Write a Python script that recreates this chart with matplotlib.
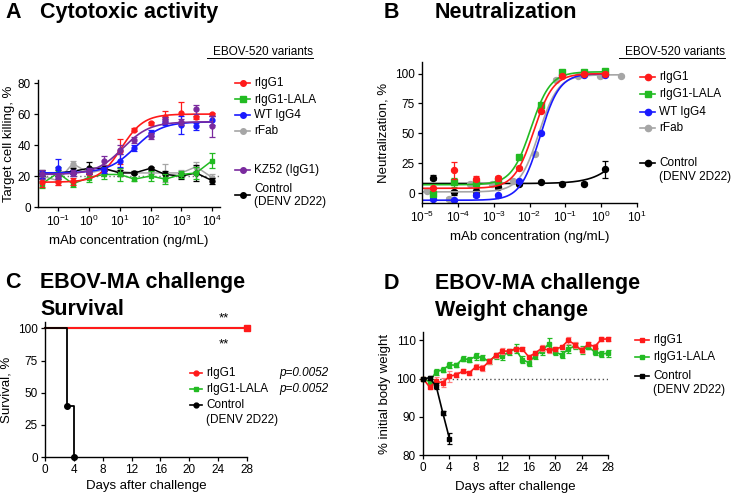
"""
Four-panel antibody figure: ADCC-style cytotoxic activity, neutralization
curves, survival after EBOV-MA challenge and body-weight change.
"""
import numpy as np
import matplotlib
matplotlib.use("Agg")
import matplotlib.pyplot as plt  # noqa: E402
from matplotlib.lines import Line2D  # noqa: E402
from matplotlib.ticker import LogLocator, NullLocator  # noqa: E402

plt.rcParams["font.family"] = ["Liberation Sans", "DejaVu Sans"]

W, H = 744, 494

RED = "#ff1a1a"
GREEN = "#22bb22"
BLUE = "#1a1aff"
GRAY = "#a6a6a6"
PURPLE = "#7a2a9e"
BLACK = "#000000"

TITLE_FS = 15.5
TICK_FS = 8.5
LABEL_FS = 9.5
LEG_FS = 8.5

# ---- panel A: cytotoxic activity ----
a_conc = [0.03, 0.1, 0.3, 1, 3, 10, 30, 100, 300, 1000, 3000, 10000]
a_rigg1 = [16, 16, 16.5, 22, 24, 36, 50, 54, 58, 61, 58, 60]
a_rigg1_err = [3, 2, 2, 1, 1, 8, 1, 1, 4, 7, 1, 1]
a_lala = [15, 22, 15, 19, 21, 21, 18, 20, 18, 21, 22, 30]
a_lala_err = [3, 4, 2, 3, 3, 4, 1, 3, 3, 2, 4, 5]
a_igg4 = [21, 25, 22, 23, 24, 30, 38, 48, 55, 53, 52, 56]
a_igg4_err = [2, 6, 2, 2, 2, 4, 2, 2, 2, 6, 2, 3]
a_rfab = [20, 17, 28, 22, 24, 23, 22, 22, 22, 22, 26, 19]
a_rfab_err = [3, 3, 2, 3, 2, 2, 1, 1, 6, 2, 3, 2]
a_kz52 = [21, 20, 22, 23, 30, 37, 43, 46, 56, 55, 63, 52]
a_kz52_err = [3, 2, 2, 2, 3, 3, 2, 2, 2, 2, 3, 7]
a_ctrl = [22, 22, 23, 25, 25, 22, 22, 25, 21, 20, 22, 17]
a_ctrl_err = [2, 2, 2, 4, 2, 2, 1, 1, 2, 2, 5, 2]
# 4PL fit parameters: bottom, top, log10 EC50, hill
a_fit_rigg1 = (16, 60, 1.05, 1.2)
a_fit_igg4 = (22, 55, 1.5, 1.0)
a_fit_kz52 = (21, 55, 1.1, 1.0)

# ---- panel B: neutralization ----
b_conc = [2e-5, 8e-5, 3.2e-4, 1.28e-3, 5.1e-3, 0.0205, 0.082, 0.33, 1.31]
b_conc_fab = [1.4e-5, 5.5e-5, 2.2e-4, 8.8e-4, 3.5e-3, 0.014, 0.056, 0.22, 0.9, 3.6]
b_rigg1 = [4, 19, 12, 12.5, 21, 68.5, 98, 100, 100]
b_rigg1_err = [1, 7, 2, 2, 1, 1, 1, 1, 1]
b_lala = [-1, 9, 8.6, 10, 30, 74, 101, 101.5, 102]
b_lala_err = [1, 4, 2, 1, 1, 1, 1, 1, 1]
b_igg4 = [-5, -6, -2, -2, 10, 50.5, 99, 99, 99]
b_igg4_err = [1, 1, 1, 1, 1, 1, 1, 1, 1]
b_rfab = [2, -5, 8, 8, 10, 33, 95, 98, 98, 98]
b_rfab_err = [1, 2, 1, 1, 1, 1, 1, 1, 1, 1]
b_ctrl = [13, 0.5, 2, 5, 8, 9.5, 8, 8, 20]
b_ctrl_err = [2, 2, 2, 2, 1, 1, 1, 1, 7]
b_fit_rigg1 = (4, 100, -1.88, 1.6)
b_fit_lala = (7, 101.5, -1.96, 1.6)
b_fit_igg4 = (-6, 100, -1.71, 1.6)
b_fit_rfab = (1, 99, -1.74, 1.6)
b_fit_ctrl = (8, 100, 1.0, 1.0)

# ---- panel C: survival ----
c_days_treated = [0, 28]
c_surv_treated = [100, 100]
c_days_ctrl = [0, 3, 4]
c_surv_ctrl = [100, 40, 0]
c_pvalue = "p=0.0052"

# ---- panel D: weight change ----
d_days = list(range(29))
d_rigg1 = [100, 97.8, 99.3, 98.9, 100.6, 101.0, 101.9, 101.5, 103.1, 102.8,
           104.5, 106.1, 107.2, 107.2, 107.8, 107.8, 105.7, 106.7, 108.0,
           107.4, 107.7, 108.3, 110.0, 108.9, 107.4, 109.0, 108.4, 110.3, 110.4]
d_rigg1_err = [0, 0.5, 1.0, 1.2, 1.5, 0.6, 0.5, 0.6, 0.6, 0.8, 0.6, 0.6, 0.8,
               0.6, 0.6, 0.4, 0.6, 0.5, 0.8, 0.6, 0.6, 0.6, 1.0, 0.8, 0.8,
               0.5, 0.6, 0.5, 0.5]
d_lala = [100, 99.2, 101.8, 102.3, 103.6, 103.5, 105.2, 105.0, 105.8, 105.5,
          104.5, 106.0, 105.8, 107.0, 107.8, 105.0, 104.2, 106.0, 107.3,
          109.0, 107.0, 106.2, 107.8, 108.5, 107.5, 108.3, 107.0, 106.5, 106.6]
d_lala_err = [0, 0.8, 0.8, 0.7, 0.8, 0.5, 0.6, 0.6, 0.8, 0.6, 0.6, 0.8, 0.8,
              0.8, 1.2, 0.8, 0.9, 0.8, 1.0, 1.5, 0.8, 0.9, 1.0, 0.8, 1.0,
              0.6, 0.9, 0.8, 0.9]
d_days_ctrl = [0, 1, 2, 3, 4]
d_ctrl = [100, 100.2, 98.0, 91.0, 84.3]
d_ctrl_err = [0, 0.4, 0.8, 0.5, 1.5]


def px_axes(fig, left, top, right, bottom):
    return fig.add_axes([left / W, 1 - bottom / H, (right - left) / W,
                         (bottom - top) / H])


def fx(x):
    return x / W


def fy(y):
    return 1 - y / H


def logistic(x, params):
    bottom, top, logec50, hill = params
    return bottom + (top - bottom) / (1 + 10 ** ((logec50 - np.log10(x)) * hill))


def style_axes(ax):
    for side in ("top", "right"):
        ax.spines[side].set_visible(False)
    for side in ("left", "bottom"):
        ax.spines[side].set_linewidth(1.0)
    ax.tick_params(direction="out", length=3, width=0.9, labelsize=TICK_FS,
                   pad=2)


def title(fig, x, y, text):
    fig.text(fx(x), fy(y), text, fontsize=TITLE_FS, fontweight="bold",
             va="baseline")


def legend_mark(fig, x0, x1, y, color, marker, ms=4):
    fig.add_artist(Line2D([fx(x0), fx(x1)], [fy(y), fy(y)], color=color,
                          lw=1.2, transform=fig.transFigure))
    fig.add_artist(Line2D([fx((x0 + x1) / 2)], [fy(y)], color=color,
                          marker=marker, ms=ms, lw=0,
                          transform=fig.transFigure))


def legend_text(fig, x, y, label, **kw):
    fig.text(fx(x), fy(y), label, fontsize=LEG_FS, va="center", ha="left",
             **kw)


def legend_entry(fig, x0, x1, y, color, marker, label, ms=4):
    legend_mark(fig, x0, x1, y, color, marker, ms)
    legend_text(fig, x1 + 4, y, label)


def header(fig, x0, x1, y, text):
    fig.text(fx(x1), fy(y), text, fontsize=LEG_FS, ha="right", va="center")
    fig.add_artist(Line2D([fx(x0), fx(x1)], [fy(y + 6), fy(y + 6)],
                          color="black", lw=0.7, transform=fig.transFigure))


fig = plt.figure(figsize=(W / 100, H / 100), dpi=100)

# titles
title(fig, 5, 18, "A")
title(fig, 40, 18, "Cytotoxic activity")
title(fig, 384, 18, "B")
title(fig, 435, 18, "Neutralization")
title(fig, 5, 288, "C")
title(fig, 40, 288, "EBOV-MA challenge")
title(fig, 40, 315, "Survival")
title(fig, 384, 289, "D")
title(fig, 435, 289, "EBOV-MA challenge")
title(fig, 435, 316, "Weight change")

# ---------------- A ----------------
ax = px_axes(fig, 38, 80, 220, 207)
style_axes(ax)
ax.set_xscale("log")
ax.set_xlim(10 ** -1.65, 10 ** 4.25)
ax.set_ylim(0, 82)
ax.set_yticks([0, 20, 40, 60, 80])
ax.xaxis.set_major_locator(LogLocator(base=10, numticks=10))
ax.xaxis.set_minor_locator(NullLocator())
ax.axhline(20, color="#707070", lw=1.0, ls=(0, (1, 2)))
xs = np.logspace(np.log10(a_conc[0]), np.log10(a_conc[-1]), 200)

fit_series = [(a_rigg1, a_rigg1_err, a_fit_rigg1, RED),
              (a_igg4, a_igg4_err, a_fit_igg4, BLUE),
              (a_kz52, a_kz52_err, a_fit_kz52, PURPLE)]
line_series = [(a_rfab, a_rfab_err, GRAY, "o"),
               (a_ctrl, a_ctrl_err, BLACK, "o"),
               (a_lala, a_lala_err, GREEN, "s")]
for vals, err, color, mk in line_series:
    ax.errorbar(a_conc, vals, yerr=err, fmt="none", ecolor=color,
                elinewidth=0.9, capsize=2, capthick=0.9)
    ax.plot(a_conc, vals, color=color, marker=mk, ms=3.5, lw=1.1)
for vals, err, params, color in fit_series:
    ax.errorbar(a_conc, vals, yerr=err, fmt="none", ecolor=color,
                elinewidth=0.9, capsize=2, capthick=0.9)
    ax.plot(xs, logistic(xs, params), color=color, lw=1.2)
    ax.plot(a_conc, vals, color=color, marker="o", ms=3.5, lw=0)
ax.set_ylabel("Target cell killing, %", fontsize=LABEL_FS, labelpad=2)
ax.set_xlabel("mAb concentration (ng/mL)", fontsize=LABEL_FS, labelpad=4)

header(fig, 207, 313, 52, "EBOV-520 variants")
legend_entry(fig, 235, 250, 83, RED, "o", "rIgG1")
legend_entry(fig, 235, 250, 99.5, GREEN, "s", "rIgG1-LALA")
legend_entry(fig, 235, 250, 115, BLUE, "o", "WT IgG4")
legend_entry(fig, 235, 250, 130.5, GRAY, "o", "rFab")
legend_entry(fig, 235, 250, 170.5, PURPLE, "o", "KZ52 (IgG1)")
legend_mark(fig, 235, 250, 195, BLACK, "o")
legend_text(fig, 254, 189, "Control")
legend_text(fig, 254, 202.5, "(DENV 2D22)")

# ---------------- B ----------------
ax = px_axes(fig, 422, 62, 637, 203)
style_axes(ax)
ax.set_xscale("log")
ax.set_xlim(1e-5, 1e1)
ax.set_ylim(-8.3, 109.7)
ax.set_yticks([0, 25, 50, 75, 100])
ax.xaxis.set_major_locator(LogLocator(base=10, numticks=10))
ax.xaxis.set_minor_locator(NullLocator())
xs = np.logspace(-5, np.log10(b_conc[-1]), 300)
xs_fab = np.logspace(-5, np.log10(b_conc_fab[-1]), 300)
b_series = [(b_conc, b_ctrl, b_ctrl_err, b_fit_ctrl, BLACK, "o", xs),
            (b_conc_fab, b_rfab, b_rfab_err, b_fit_rfab, GRAY, "o", xs_fab),
            (b_conc, b_igg4, b_igg4_err, b_fit_igg4, BLUE, "o", xs),
            (b_conc, b_lala, b_lala_err, b_fit_lala, GREEN, "s", xs),
            (b_conc, b_rigg1, b_rigg1_err, b_fit_rigg1, RED, "o", xs)]
for conc, vals, err, params, color, mk, grid in b_series:
    ax.plot(grid, logistic(grid, params), color=color, lw=1.2)
    ax.errorbar(conc, vals, yerr=err, fmt="none", ecolor=color,
                elinewidth=0.9, capsize=2, capthick=0.9)
    ax.plot(conc, vals, color=color, marker=mk, ms=4.3, lw=0)
ax.set_ylabel("Neutralization, %", fontsize=LABEL_FS, labelpad=4)
ax.set_xlabel("mAb concentration (ng/mL)", fontsize=LABEL_FS, labelpad=4)

header(fig, 619, 725, 52, "EBOV-520 variants")
legend_entry(fig, 640, 655, 77, RED, "o", "rIgG1", ms=4.5)
legend_entry(fig, 640, 655, 94, GREEN, "s", "rIgG1-LALA", ms=4.5)
legend_entry(fig, 640, 655, 112, BLUE, "o", "WT IgG4", ms=4.5)
legend_entry(fig, 640, 655, 128, GRAY, "o", "rFab", ms=4.5)
legend_entry(fig, 640, 655, 163, BLACK, "o", "Control", ms=4.5)
legend_text(fig, 659, 177, "(DENV 2D22)")

# ---------------- C ----------------
ax = px_axes(fig, 45, 322, 247, 457)
style_axes(ax)
ax.set_xlim(0, 28)
ax.set_ylim(0, 105)
ax.set_xticks(range(0, 29, 4))
ax.set_yticks([0, 25, 50, 75, 100])
ax.step(c_days_treated, c_surv_treated, where="post", color=GREEN, lw=1.5,
        clip_on=False)
ax.step(c_days_treated, c_surv_treated, where="post", color=RED, lw=1.5,
        clip_on=False)
ax.plot(c_days_treated[-1:], c_surv_treated[-1:], color=RED, marker="s",
        ms=4, lw=0, clip_on=False, zorder=5)
ax.step(c_days_ctrl, c_surv_ctrl, where="post", color=BLACK, lw=1.3,
        clip_on=False)
ax.plot(c_days_ctrl[1:], c_surv_ctrl[1:], color=BLACK, marker="o", ms=4,
        lw=0, clip_on=False, zorder=5)
ax.text(24.8, 108, "**", fontsize=9.5, ha="center", va="center")
ax.text(24.8, 87.5, "**", fontsize=9.5, ha="center", va="center")
ax.set_ylabel("Survival, %", fontsize=LABEL_FS, labelpad=4)
ax.set_xlabel("Days after challenge", fontsize=LABEL_FS, labelpad=3)

legend_entry(fig, 190, 202, 372.7, RED, "o", "rIgG1", ms=3.5)
legend_entry(fig, 190, 202, 389, GREEN, "s", "rIgG1-LALA", ms=3.5)
legend_entry(fig, 190, 202, 405, BLACK, "o", "Control", ms=3.5)
legend_text(fig, 206, 420, "(DENV 2D22)")
legend_text(fig, 279, 372.7, c_pvalue, style="italic")
legend_text(fig, 279, 389, c_pvalue, style="italic")

# ---------------- D ----------------
ax = px_axes(fig, 423, 332, 608, 455)
style_axes(ax)
ax.set_xlim(0, 28)
ax.set_ylim(80, 112.2)
ax.set_xticks(range(0, 29, 4))
ax.set_yticks([80, 90, 100, 110])
ax.axhline(100, color="#505050", lw=1.0, ls=(0, (1, 2)))
d_series = [(d_days, d_lala, d_lala_err, GREEN, GREEN),
            (d_days, d_rigg1, d_rigg1_err, RED, "#ff8080"),
            (d_days_ctrl, d_ctrl, d_ctrl_err, BLACK, BLACK)]
for days, vals, err, color, ecolor in d_series:
    ax.errorbar(days, vals, yerr=err, fmt="none", ecolor=ecolor,
                elinewidth=0.9, capsize=1.8, capthick=0.9, clip_on=False)
    ax.plot(days, vals, color=color, marker="s", ms=3.2, lw=1.2,
            clip_on=False)
ax.set_ylabel("% initial body weight", fontsize=LABEL_FS, labelpad=4)
ax.set_xlabel("Days after challenge", fontsize=LABEL_FS, labelpad=5)

legend_entry(fig, 635, 649, 340, RED, "s", "rIgG1", ms=3.5)
legend_entry(fig, 635, 649, 357, GREEN, "s", "rIgG1-LALA", ms=3.5)
legend_entry(fig, 635, 649, 376, BLACK, "s", "Control", ms=3.5)
legend_text(fig, 653, 390, "(DENV 2D22)")

fig.savefig("out.png", dpi=100)
